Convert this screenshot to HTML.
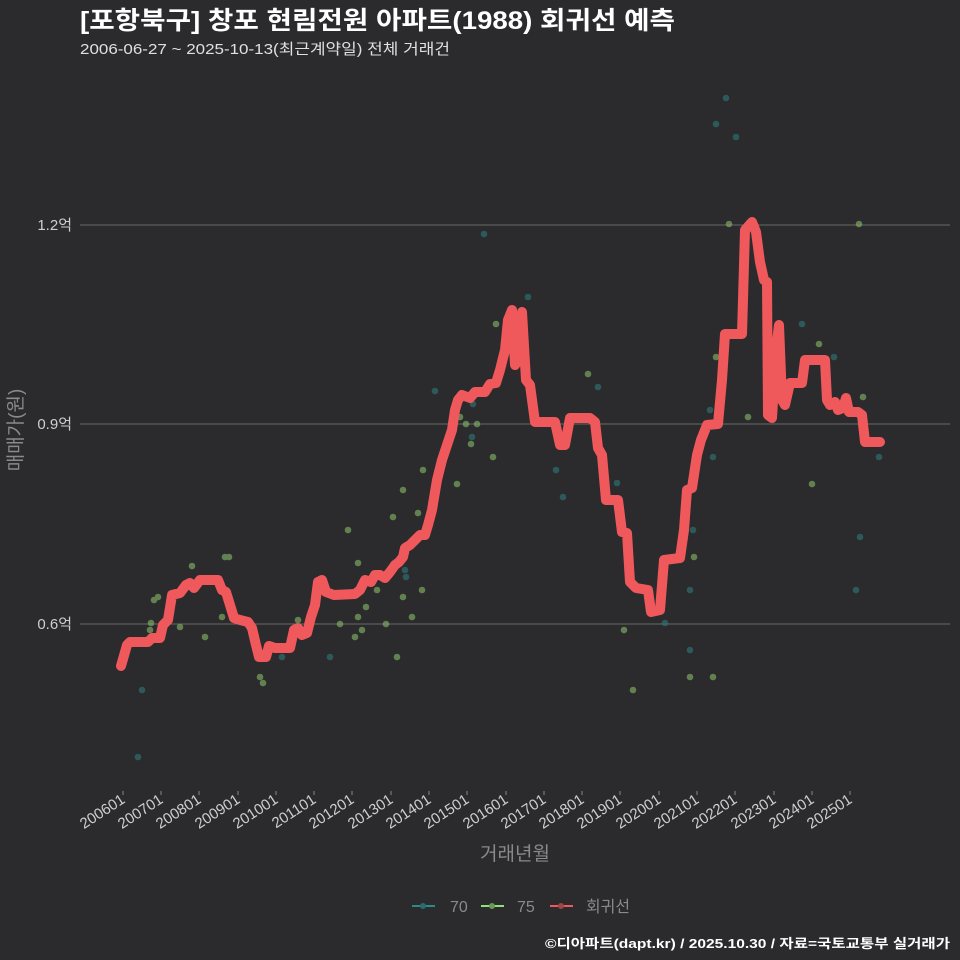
<!DOCTYPE html>
<html><head><meta charset="utf-8"><style>
html,body{margin:0;padding:0;background:#2b2a2c;}
svg{display:block;font-family:"Liberation Sans","Noto Sans CJK KR",sans-serif;}
</style></head><body>
<svg width="960" height="960" viewBox="0 0 960 960" xmlns="http://www.w3.org/2000/svg">
<rect width="960" height="960" fill="#2b2a2c"/>
<text x="80" y="29" fill="#ffffff" font-size="25" font-weight="bold" textLength="595" lengthAdjust="spacingAndGlyphs">[포항북구] 창포 현림전원 아파트(1988) 회귀선 예측</text>
<text x="80" y="54" fill="#e0e0e0" font-size="15" textLength="370" lengthAdjust="spacingAndGlyphs">2006-06-27 ~ 2025-10-13(최근계약일) 전체 거래건</text>
<g stroke="#6a6a6a" stroke-width="1">
<line x1="80" y1="225" x2="950" y2="225"/><line x1="80" y1="424" x2="950" y2="424"/><line x1="80" y1="624" x2="950" y2="624"/>
</g>
<g fill="#cfcfcf" font-size="15" text-anchor="end">
<text x="72" y="230">1.2억</text><text x="72" y="429">0.9억</text><text x="72" y="629">0.6억</text>
</g>
<text transform="translate(22,430) rotate(-90)" fill="#8a8a8a" font-size="19" text-anchor="middle">매매가(원)</text>
<g stroke="#888" stroke-width="1">
<line x1="123" y1="791" x2="123" y2="795"/><line x1="161" y1="791" x2="161" y2="795"/><line x1="199" y1="791" x2="199" y2="795"/><line x1="238" y1="791" x2="238" y2="795"/><line x1="276" y1="791" x2="276" y2="795"/><line x1="314" y1="791" x2="314" y2="795"/><line x1="352" y1="791" x2="352" y2="795"/><line x1="391" y1="791" x2="391" y2="795"/><line x1="429" y1="791" x2="429" y2="795"/><line x1="467" y1="791" x2="467" y2="795"/><line x1="506" y1="791" x2="506" y2="795"/><line x1="544" y1="791" x2="544" y2="795"/><line x1="582" y1="791" x2="582" y2="795"/><line x1="620" y1="791" x2="620" y2="795"/><line x1="659" y1="791" x2="659" y2="795"/><line x1="697" y1="791" x2="697" y2="795"/><line x1="735" y1="791" x2="735" y2="795"/><line x1="774" y1="791" x2="774" y2="795"/><line x1="812" y1="791" x2="812" y2="795"/><line x1="850" y1="791" x2="850" y2="795"/>
</g>
<g fill="#cfcfcf" font-size="15" text-anchor="end">
<text transform="translate(126,802) rotate(-33)">200601</text>
<text transform="translate(164,802) rotate(-33)">200701</text>
<text transform="translate(202,802) rotate(-33)">200801</text>
<text transform="translate(241,802) rotate(-33)">200901</text>
<text transform="translate(279,802) rotate(-33)">201001</text>
<text transform="translate(317,802) rotate(-33)">201101</text>
<text transform="translate(355,802) rotate(-33)">201201</text>
<text transform="translate(394,802) rotate(-33)">201301</text>
<text transform="translate(432,802) rotate(-33)">201401</text>
<text transform="translate(470,802) rotate(-33)">201501</text>
<text transform="translate(509,802) rotate(-33)">201601</text>
<text transform="translate(547,802) rotate(-33)">201701</text>
<text transform="translate(585,802) rotate(-33)">201801</text>
<text transform="translate(623,802) rotate(-33)">201901</text>
<text transform="translate(662,802) rotate(-33)">202001</text>
<text transform="translate(700,802) rotate(-33)">202101</text>
<text transform="translate(738,802) rotate(-33)">202201</text>
<text transform="translate(777,802) rotate(-33)">202301</text>
<text transform="translate(815,802) rotate(-33)">202401</text>
<text transform="translate(853,802) rotate(-33)">202501</text>
</g>
<text x="515" y="860" fill="#8a8a8a" font-size="19" text-anchor="middle">거래년월</text>
<g opacity="0.65">
<g fill="#2f7375">
<circle cx="138" cy="757" r="3.3"/><circle cx="142" cy="690" r="3.3"/><circle cx="282" cy="657" r="3.3"/><circle cx="330" cy="657" r="3.3"/><circle cx="405" cy="570" r="3.3"/><circle cx="406" cy="577" r="3.3"/><circle cx="435" cy="391" r="3.3"/><circle cx="472" cy="437" r="3.3"/><circle cx="473" cy="404" r="3.3"/><circle cx="484" cy="234" r="3.3"/><circle cx="528" cy="297" r="3.3"/><circle cx="556" cy="470" r="3.3"/><circle cx="563" cy="497" r="3.3"/><circle cx="598" cy="387" r="3.3"/><circle cx="617" cy="483" r="3.3"/><circle cx="665" cy="623" r="3.3"/><circle cx="690" cy="650" r="3.3"/><circle cx="690" cy="590" r="3.3"/><circle cx="693" cy="530" r="3.3"/><circle cx="710" cy="410" r="3.3"/><circle cx="713" cy="457" r="3.3"/><circle cx="716" cy="124" r="3.3"/><circle cx="726" cy="98" r="3.3"/><circle cx="736" cy="137" r="3.3"/><circle cx="802" cy="324" r="3.3"/><circle cx="834" cy="357" r="3.3"/><circle cx="856" cy="590" r="3.3"/><circle cx="860" cy="537" r="3.3"/><circle cx="879" cy="457" r="3.3"/>
</g>
<g fill="#80b065">
<circle cx="150" cy="630" r="3.3"/><circle cx="151" cy="623" r="3.3"/><circle cx="154" cy="600" r="3.3"/><circle cx="158" cy="597" r="3.3"/><circle cx="180" cy="627" r="3.3"/><circle cx="192" cy="566" r="3.3"/><circle cx="205" cy="637" r="3.3"/><circle cx="222" cy="617" r="3.3"/><circle cx="225" cy="557" r="3.3"/><circle cx="229" cy="557" r="3.3"/><circle cx="260" cy="677" r="3.3"/><circle cx="263" cy="683" r="3.3"/><circle cx="298" cy="620" r="3.3"/><circle cx="340" cy="624" r="3.3"/><circle cx="348" cy="530" r="3.3"/><circle cx="355" cy="637" r="3.3"/><circle cx="358" cy="617" r="3.3"/><circle cx="358" cy="563" r="3.3"/><circle cx="362" cy="630" r="3.3"/><circle cx="366" cy="607" r="3.3"/><circle cx="377" cy="590" r="3.3"/><circle cx="386" cy="624" r="3.3"/><circle cx="393" cy="517" r="3.3"/><circle cx="397" cy="657" r="3.3"/><circle cx="403" cy="490" r="3.3"/><circle cx="403" cy="597" r="3.3"/><circle cx="412" cy="617" r="3.3"/><circle cx="418" cy="513" r="3.3"/><circle cx="422" cy="590" r="3.3"/><circle cx="423" cy="470" r="3.3"/><circle cx="457" cy="484" r="3.3"/><circle cx="460" cy="417" r="3.3"/><circle cx="466" cy="424" r="3.3"/><circle cx="471" cy="444" r="3.3"/><circle cx="477" cy="424" r="3.3"/><circle cx="493" cy="457" r="3.3"/><circle cx="496" cy="324" r="3.3"/><circle cx="588" cy="374" r="3.3"/><circle cx="624" cy="630" r="3.3"/><circle cx="633" cy="690" r="3.3"/><circle cx="690" cy="677" r="3.3"/><circle cx="694" cy="557" r="3.3"/><circle cx="713" cy="677" r="3.3"/><circle cx="716" cy="357" r="3.3"/><circle cx="729" cy="224" r="3.3"/><circle cx="748" cy="417" r="3.3"/><circle cx="812" cy="484" r="3.3"/><circle cx="819" cy="344" r="3.3"/><circle cx="859" cy="224" r="3.3"/><circle cx="863" cy="397" r="3.3"/>
</g>
</g>
<polyline fill="none" stroke="#f0595c" stroke-width="10" stroke-linejoin="round" stroke-linecap="round" points="121,666 127,645 130,642 148,642 152,638 160,638 163,625 168,620 172,595 180,593 186,585 190,583 194,588 200,580 218,580 222,590 226,592 230,605 234,618 240,620 248,622 252,628 256,645 259,657 266,657 269,646 275,648 290,648 294,630 298,628 302,635 307,633 311,617 315,605 318,582 322,580 326,592 334,595 355,594 360,590 365,580 371,582 375,575 380,575 385,578 390,572 395,565 399,562 403,557 405,548 410,545 415,540 420,535 425,535 428,525 432,510 437,480 442,460 447,445 452,430 455,410 458,400 462,395 470,398 475,392 485,392 490,384 496,383 500,370 505,350 508,320 512,310 515,365 518,360 522,312 526,380 530,385 535,422 555,422 560,445 565,445 570,418 590,418 595,422 598,448 602,455 606,500 618,500 622,532 627,533 630,582 636,588 648,590 651,612 660,610 664,560 680,558 684,530 687,490 692,488 697,455 701,440 707,425 718,424 722,380 725,334 742,334 745,230 752,222 756,232 760,262 764,280 767,282 768,415 772,418 776,350 779,325 782,400 785,405 790,383 802,383 805,360 825,360 827,400 830,405 835,402 838,410 843,408 846,398 849,412 858,412 862,415 865,442 880,442"/>
<g font-size="16" fill="#8a8a8a">
<line x1="412" y1="906" x2="435" y2="906" stroke="#2a8a8c" stroke-width="2"/><circle cx="423" cy="906" r="3" fill="#2a6b6e"/>
<text x="450" y="912">70</text>
<line x1="481" y1="906" x2="504" y2="906" stroke="#8fe07a" stroke-width="2"/><circle cx="492" cy="906" r="3" fill="#6b9a55"/>
<text x="517" y="912">75</text>
<line x1="550" y1="906" x2="573" y2="906" stroke="#f0595c" stroke-width="2"/><circle cx="561" cy="906" r="3" fill="#a04548"/>
<text x="586" y="912" textLength="44" lengthAdjust="spacingAndGlyphs">회귀선</text>
</g>
<text x="950" y="948" fill="#ffffff" font-size="13" font-weight="bold" text-anchor="end" textLength="405" lengthAdjust="spacingAndGlyphs">©디아파트(dapt.kr) / 2025.10.30 / 자료=국토교통부 실거래가</text>
</svg>
</body></html>
